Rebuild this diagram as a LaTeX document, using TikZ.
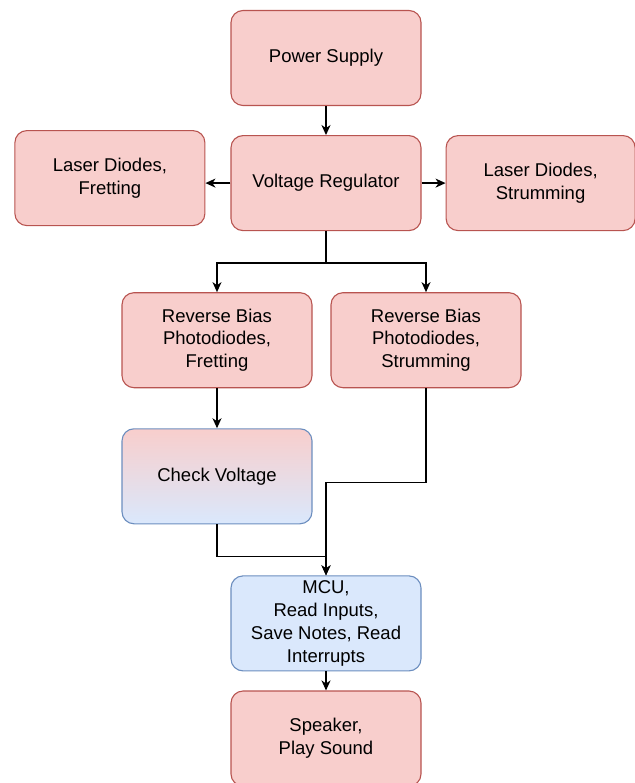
\documentclass[tikz,border=0pt]{standalone}
\usepackage{fontspec}
\setmainfont{Liberation Sans}
\usepackage{xcolor}
\usepackage{tikz}
\usetikzlibrary{arrows.meta,positioning,calc}

\definecolor{redFill}{HTML}{F8CECC}
\definecolor{redLine}{HTML}{B85450}
\definecolor{blueFill}{HTML}{DAE8FC}
\definecolor{blueLine}{HTML}{6C8EBF}

\begin{document}
\begin{tikzpicture}[
  x=1pt, y=1pt,
  >={Stealth[length=10pt,width=9pt,inset=3pt]},
  node distance=29pt,
  block/.style={rounded corners=12pt, align=center, line width=1.1pt, minimum width=190pt, minimum height=95pt, inner sep=2pt, font=\fontsize{18.5}{22.8}\selectfont},
  redBlock/.style={block, draw=redLine, fill=redFill},
  blueBlock/.style={block, draw=blueLine, fill=blueFill},
  mixBlock/.style={block, draw=blueLine, top color=redFill, bottom color=blueFill},
  arrow/.style={->, line width=1.4pt}
]
\useasboundingbox (0,0) rectangle (634,-783);

\node[redBlock] (power) at (326,-58) {Power Supply};
\node[redBlock, below=29pt of power] (vreg) {Voltage Regulator};
\node[redBlock, left=25pt of vreg, yshift=5pt] (laserFret) {Laser Diodes,\\Fretting};
\node[redBlock, right=24pt of vreg, minimum width=189pt] (laserStrum) {Laser Diodes,\\Strumming};

\node[redBlock, below=61pt of vreg, xshift=-109pt] (rbpFret) {Reverse Bias\\Photodiodes,\\Fretting};
\node[redBlock, below=61pt of vreg, xshift=100pt] (rbpStrum) {Reverse Bias\\Photodiodes,\\Strumming};

\node[mixBlock, below=40pt of rbpFret] (check) {Check Voltage};

\node[blueBlock, below=51pt of check, xshift=109pt] (mcu) {MCU,\\Read Inputs,\\Save Notes, Read\\Interrupts};
\node[redBlock, below=19pt of mcu] (speaker) {Speaker,\\Play Sound};

\draw[arrow] (power) -- (vreg);
\draw[arrow] (vreg) -- (laserFret.east |- vreg);
\draw[arrow] (vreg) -- (laserStrum);

\draw[arrow] (vreg.south) -- ++(0,-32) -| (rbpFret.north);
\draw[arrow] (vreg.south) -- ++(0,-32) -| (rbpStrum.north);

\draw[arrow] (rbpFret) -- (check);
\draw[arrow] (rbpStrum.south) -- ++(0,-94) -| (mcu.north);
\draw[arrow] (check.south) -- ++(0,-32) -| (mcu.north);

\draw[arrow] (mcu) -- (speaker);

\end{tikzpicture}
\end{document}
